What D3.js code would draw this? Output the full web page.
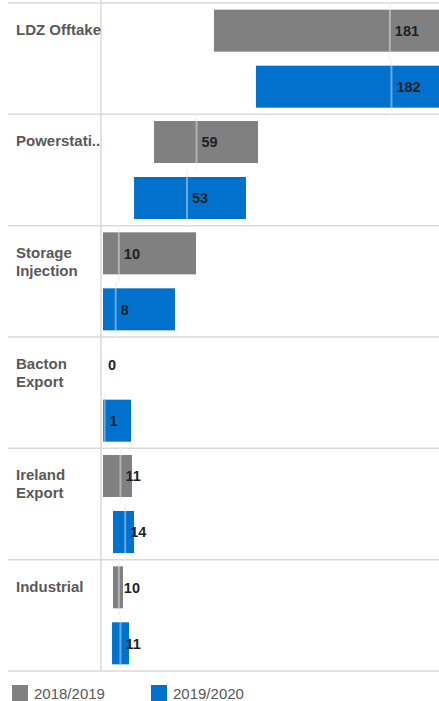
<!DOCTYPE html>
<html><head><meta charset="utf-8">
<script src="https://cdn.jsdelivr.net/npm/d3@7"></script>
<style>
html,body{margin:0;padding:0;background:#fff;}
svg{display:block;font-family:"Liberation Sans",Arial,sans-serif;}
</style></head>
<body><svg id="c" width="439" height="701"></svg>
<script>
const categories = ["LDZ Offtake","Powerstati..","Storage\nInjection","Bacton\nExport","Ireland\nExport","Industrial"];
const series = ["2018/2019","2019/2020"];
const colors = ["#808081","#0072CE"];
const value2018 = [181,59,10,0,11,10];
const value2019 = [182,53,8,1,14,11];
const min2018 = [70,32.2,0,0,0,6.3];
const max2018 = [230,97.8,58.7,0,18.3,12.6];
const min2019 = [96.5,19.6,0,0,6.3,5.7];
const max2019 = [230,90.2,45.4,17.7,19.6,16.4];

const values = [value2018, value2019], mins = [min2018, min2019], maxs = [max2018, max2019];
const svg = d3.select("#c");
const W = 439;
const x = d3.scaleLinear().domain([0,212]).range([103,439]);
const y = d3.scaleBand().domain(categories).range([3,671]);
const ys = d3.scaleBand().domain(series).range([0,y.bandwidth()]).paddingInner(0.25).paddingOuter(0.119);

svg.append("defs").append("clipPath").attr("id","plot")
  .append("rect").attr("x",101).attr("y",0).attr("width",W-101).attr("height",671);

// grid lines
const bounds = categories.map(c=>y(c)).concat([y(categories[categories.length-1])+y.bandwidth()]);
svg.append("g").selectAll("line").data(bounds).join("line")
  .attr("x1",8).attr("x2",W).attr("y1",d=>d).attr("y2",d=>d)
  .attr("stroke","#d9d9d9").attr("stroke-width",1.5);
svg.append("line").attr("x1",101).attr("x2",101).attr("y1",0).attr("y2",671)
  .attr("stroke","#d9d9d9").attr("stroke-width",1.5);

const rows = [];
categories.forEach((c,i)=>series.forEach((s,j)=>rows.push({c,s,j,v:values[j][i],lo:mins[j][i],hi:maxs[j][i]})));
const barRows = rows.filter(d=>d.hi>d.lo);

const plot = svg.append("g").attr("clip-path","url(#plot)");
// faint marker halos
plot.selectAll("line.halo").data(barRows).join("line").attr("class","halo")
  .attr("x1",d=>x(d.v)).attr("x2",d=>x(d.v))
  .attr("y1",d=>y(d.c)+ys(d.s)-7).attr("y2",d=>y(d.c)+ys(d.s)+ys.bandwidth()+7)
  .attr("stroke","#f2f2f2").attr("stroke-width",1.5);
plot.selectAll("rect.bar").data(barRows).join("rect").attr("class","bar")
  .attr("x",d=>x(d.lo)).attr("width",d=>x(d.hi)-x(d.lo))
  .attr("y",d=>y(d.c)+ys(d.s)).attr("height",ys.bandwidth())
  .attr("fill",d=>colors[d.j]);
plot.selectAll("line.mark").data(barRows).join("line").attr("class","mark")
  .attr("x1",d=>x(d.v)).attr("x2",d=>x(d.v))
  .attr("y1",d=>y(d.c)+ys(d.s)).attr("y2",d=>y(d.c)+ys(d.s)+ys.bandwidth())
  .attr("stroke","rgba(255,255,255,0.4)").attr("stroke-width",2);
svg.append("g").selectAll("text").data(rows).join("text")
  .attr("x",d=>x(d.v)+5).attr("y",d=>y(d.c)+ys(d.s)+ys.bandwidth()/2)
  .attr("dy","0.36em").attr("font-size",14.5).attr("font-weight","bold").attr("fill","#1f1f1f")
  .text(d=>d.v);

// category labels
const cl = svg.append("g").selectAll("text").data(categories).join("text")
  .attr("x",16).attr("y",d=>y(d)+32)
  .attr("font-size",15).attr("font-weight","bold").attr("fill","#595959");
cl.each(function(d){
  const t = d3.select(this);
  d.split("\n").forEach((ln,k)=>t.append("tspan").attr("x",16).attr("dy",k?18:0).text(ln));
});

// legend
const lg = svg.append("g").selectAll("g").data(series).join("g")
  .attr("transform",(d,i)=>`translate(${i?151:12},685)`);
lg.append("rect").attr("width",16).attr("height",16).attr("fill",(d,i)=>colors[i]);
lg.append("text").attr("x",22).attr("y",13.5).attr("font-size",15).attr("fill","#595959").text(d=>d);
</script></body></html>
